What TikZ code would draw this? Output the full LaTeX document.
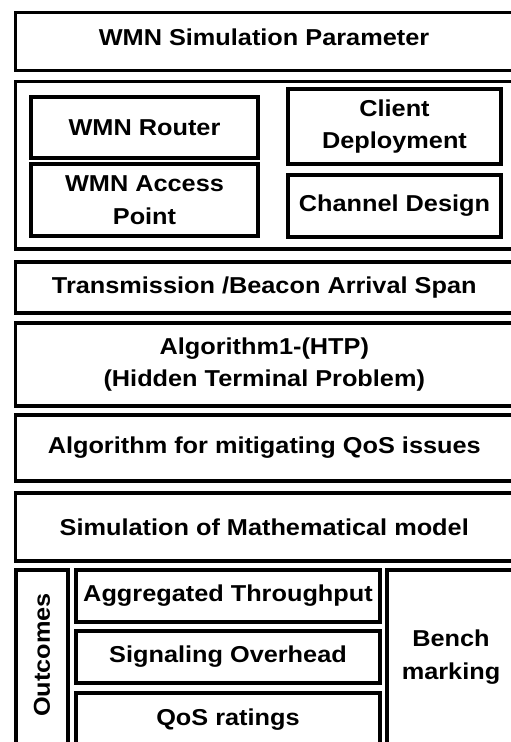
\documentclass[tikz,border=0pt]{standalone}
\usepackage{fontspec}
\setmainfont[FakeStretch=1.1]{Liberation Sans}
\tikzset{
  blk/.style={draw=black, line width=3.6pt, fill=white, inner sep=0pt, outer sep=0pt,
    align=center, font=\fontsize{23}{32.5}\selectfont\bfseries},
  lbl/.style={inner sep=0pt, outer sep=0pt, align=center,
    font=\fontsize{23}{32.5}\selectfont\bfseries}
}
% \blockat{name}{x1}{y1}{x2}{y2}{text}: box with corners (x1,y1) and (x2,y2)
\newcommand\blockat[6]{%
  \node[blk, anchor=north west, minimum width={#4-#2}, minimum height={#5-#3}]
    (#1) at (#2,#3) {#6};}
\begin{document}
\begin{tikzpicture}[x=1pt, y=-1pt]
  \useasboundingbox (0,0) rectangle (511,742);
  \fill[white] (0,0) rectangle (511,742);
  \clip (0,0) rectangle (511,742);

  \blockat{param}{15.5}{12.5}{513}{70.5}{}
  \node[lbl] (paramlbl) at (264,37.5) {WMN Simulation Parameter};

  \blockat{setup}{15.5}{81.5}{513}{249}{}
  \blockat{router}{31}{97}{258}{158}{WMN Router}
  \blockat{ap}{31}{164}{258}{236}{WMN Access\\Point}
  \blockat{client}{288}{89}{501}{164}{Client\\Deployment}
  \blockat{channel}{288}{175}{501}{237}{Channel Design}

  \blockat{span}{15.5}{262}{513}{313}{Transmission /Beacon Arrival Span}
  \blockat{htp}{15.5}{323}{513}{406}{Algorithm1-(HTP)\\(Hidden Terminal Problem)}
  \blockat{qos}{15.5}{415}{513}{481}{Algorithm for mitigating QoS issues}
  \blockat{model}{15.5}{493}{513}{561}{Simulation of Mathematical model}

  \blockat{outcomes}{16}{570}{68}{760}{}
  \node[lbl, rotate=90] (outlbl) at (42,655) {Outcomes};
  \blockat{thr}{76}{570}{380}{622}{Aggregated Throughput}
  \blockat{sig}{76}{631}{380}{683}{Signaling Overhead}
  \blockat{rat}{76}{693}{380}{746}{QoS ratings}
  \blockat{bench}{387}{570}{515}{760}{}
  \node[lbl] (benchlbl) at (451,657) {Bench\\marking};
\end{tikzpicture}
\end{document}
